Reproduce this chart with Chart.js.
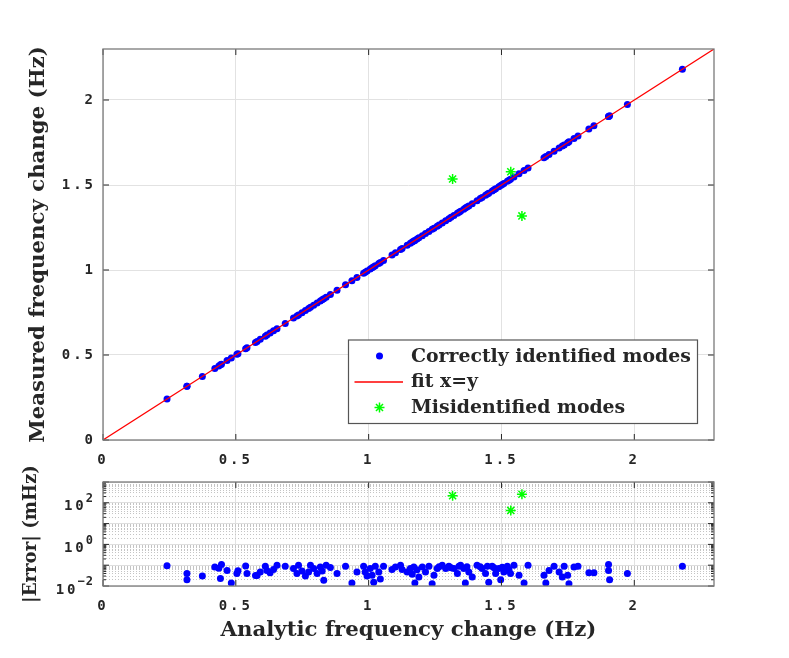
<!DOCTYPE html>
<html>
<head>
<meta charset="utf-8">
<script src="https://cdn.jsdelivr.net/npm/chart.js"></script>
<style>
  html, body { margin: 0; padding: 0; background: #fff; }
  #wrap { position: relative; width: 789px; height: 658px; }
  #top { position: absolute; left: 0; top: 0; }
  #bot { position: absolute; left: 0; top: 455px; }
</style>
</head>
<body>
<div id="wrap">
  <canvas id="top" width="789" height="470"></canvas>
  <canvas id="bot" width="789" height="203"></canvas>
</div>
<script>

// correctly identified modes: analytic frequency change (Hz) and |error| (mHz)
// (measured values sit on x=y at this scale, so the top plot uses the analytic value)
const analyticHz = [
  0.241, 0.316, 0.316, 0.374, 0.421, 0.436, 0.446, 0.442, 0.467, 0.483,
  0.504, 0.508, 0.537, 0.542, 0.574,
  0.580, 0.592, 0.611, 0.617, 0.629, 0.642, 0.655, 0.686, 0.717, 0.736,
  0.730, 0.749, 0.762, 0.774, 0.781, 0.793, 0.806, 0.818, 0.825, 0.831,
  0.840, 0.856, 0.881, 0.913, 0.937, 0.956, 0.981, 0.987, 0.994, 1.006,
  1.013, 1.019, 1.025, 1.038, 1.044, 1.056, 1.088, 1.101, 1.120, 1.126,
  1.145, 1.157, 1.164, 1.174,
  1.170, 1.189, 1.202, 1.214, 1.227, 1.239, 1.246, 1.258, 1.277, 1.290,
  1.302, 1.321, 1.334, 1.346, 1.358, 1.364, 1.377, 1.390, 1.408, 1.427,
  1.440, 1.452, 1.465, 1.478, 1.490, 1.497, 1.509, 1.522, 1.534, 1.547,
  1.566, 1.585, 1.600, 1.660, 1.667, 1.679, 1.698, 1.717, 1.736, 1.749,
  1.182, 1.265, 1.310, 1.340, 1.370, 1.420, 1.447, 1.472, 1.503, 1.528,
  1.729, 1.754, 1.773, 1.788, 1.829, 1.848, 1.903, 1.903, 1.907, 1.974,
  2.181
];
const errorMHz = [
  0.095, 0.040, 0.020, 0.030, 0.081, 0.071, 0.107, 0.023, 0.056, 0.014,
  0.040, 0.054, 0.091, 0.040, 0.032,
  0.032, 0.047, 0.089, 0.056, 0.043, 0.062, 0.100, 0.089, 0.069, 0.100,
  0.040, 0.052, 0.030, 0.047, 0.100, 0.069, 0.040, 0.083, 0.052, 0.019,
  0.100, 0.078, 0.040, 0.089, 0.014, 0.047, 0.089, 0.047, 0.030, 0.069,
  0.033, 0.015, 0.089, 0.047, 0.022, 0.089, 0.062, 0.083, 0.100, 0.062,
  0.047, 0.069, 0.037, 0.014,
  0.083, 0.027, 0.083, 0.047, 0.089, 0.013, 0.033, 0.069, 0.100, 0.069,
  0.089, 0.069, 0.040, 0.100, 0.069, 0.014, 0.047, 0.027, 0.100, 0.069,
  0.040, 0.015, 0.089, 0.040, 0.069, 0.020, 0.047, 0.089, 0.040, 0.100,
  0.033, 0.014, 0.100, 0.033, 0.014, 0.056, 0.089, 0.047, 0.089, 0.033,
  0.060, 0.085, 0.075, 0.090, 0.085, 0.085, 0.090, 0.075, 0.080, 0.060,
  0.027, 0.013, 0.083, 0.089, 0.043, 0.043, 0.107, 0.056, 0.020, 0.040,
  0.089
];

// misidentified modes
const misAnalyticHz = [1.316, 1.535, 1.577];
const misMeasuredHz = [1.535, 1.578, 1.318];
const misErrorMHz = [219, 43, 259];

// reference line x = y
const fitHz = [0, 2.3];

const xTicks = [0, 0.5, 1, 1.5, 2];
const yTicks = [0, 0.5, 1, 1.5, 2];
const errTicks = [0.01, 1, 100];
const errTickExponents = ['\u22122', '0', '2'];

const TEXT = '#262626';
const BLUE = '#0000ff';
const GREEN = '#00ff00';
const RED = '#ff0000';

function fitSize(text, target) {
  var c = document.createElement('canvas').getContext('2d');
  c.font = 'bold 100px "DejaVu Serif"';
  return 100 * target / c.measureText(text).width;
}
var titleSize = fitSize('Analytic frequency change (Hz)', 376);
var errTitleSize = fitSize('|Error| (mHz)', 138);
var legendSize = fitSize('Correctly identified modes', 280);

const TICK_FONT = { family: 'DejaVu Sans Mono', weight: 'bold', size: 14 };
const TITLE_FONT = { family: 'DejaVu Serif', weight: 'bold', size: titleSize };

function isDecade(v) {
  var l = Math.log10(v);
  return Math.abs(l - Math.round(l)) < 1e-6;
}

// tick labels are drawn after the datasets (ticks.z = 1) with wide spacing
const spacing = {
  id: 'spacing',
  afterDatasetsDraw(chart) { chart.ctx.letterSpacing = '3px'; },
  afterDraw(chart) { chart.ctx.letterSpacing = '0px'; }
};

// axes box with inward tick marks
const frame = {
  id: 'frame',
  afterDraw(chart, args, opts) {
    var ctx = chart.ctx, a = chart.chartArea;
    var xs = chart.scales.x, ys = chart.scales.y;
    ctx.save();
    ctx.strokeStyle = TEXT;
    ctx.lineWidth = 1;
    function seg(x1, y1, x2, y2) { ctx.beginPath(); ctx.moveTo(x1, y1); ctx.lineTo(x2, y2); ctx.stroke(); }
    xTicks.forEach(function (v) {
      var p = xs.getPixelForValue(v);
      seg(p, a.bottom, p, a.bottom - 6);
      seg(p, a.top, p, a.top + 6);
    });
    opts.yMarks.forEach(function (v) {
      var p = ys.getPixelForValue(v);
      var len = (opts.log && !isDecade(v)) ? 3 : 6;
      seg(a.left, p, a.left + len, p);
      seg(a.right, p, a.right - len, p);
    });
    ctx.strokeStyle = '#7a7a7a';
    ctx.lineWidth = 1.3;
    ctx.strokeRect(a.left, a.top, a.right - a.left, a.bottom - a.top);
    ctx.restore();
  }
};

// 10^k labels of the log axis, exponent raised
const expLabels = {
  id: 'expLabels',
  afterDraw(chart) {
    var ctx = chart.ctx, a = chart.chartArea, ys = chart.scales.y;
    ctx.save();
    ctx.fillStyle = TEXT;
    ctx.textBaseline = 'middle';
    ctx.textAlign = 'left';
    errTicks.forEach(function (v, i) {
      var p = ys.getPixelForValue(v);
      ctx.font = 'bold 12px "DejaVu Sans Mono"';
      ctx.letterSpacing = '1px';
      var ew = ctx.measureText(errTickExponents[i]).width;
      ctx.font = 'bold 14px "DejaVu Sans Mono"';
      ctx.letterSpacing = '3px';
      var bw = ctx.measureText('10').width;
      var bx = a.left - 10 - ew - bw + 2;
      ctx.fillText('10', bx, p + 4);
      ctx.font = 'bold 12px "DejaVu Sans Mono"';
      ctx.letterSpacing = '1px';
      ctx.fillText(errTickExponents[i], bx + bw - 1, p - 4);
    });
    ctx.restore();
  }
};

function star(ctx, x, y, r) {
  ctx.beginPath();
  for (var k = 0; k < 4; k++) {
    var t = k * Math.PI / 4;
    ctx.moveTo(x - r * Math.cos(t), y - r * Math.sin(t));
    ctx.lineTo(x + r * Math.cos(t), y + r * Math.sin(t));
  }
  ctx.stroke();
}

// legend box in the lower right of the top axes
const legendBox = {
  id: 'legendBox',
  afterDraw(chart) {
    var ctx = chart.ctx, a = chart.chartArea;
    var w = 349, h = 83.5;
    var x0 = a.right - 16.5 - w, y0 = a.bottom - 16.5 - h;
    ctx.save();
    ctx.letterSpacing = '0px';
    ctx.fillStyle = '#fff';
    ctx.fillRect(x0, y0, w, h);
    ctx.strokeStyle = '#555';
    ctx.lineWidth = 1.2;
    ctx.strokeRect(x0, y0, w, h);
    var mx = x0 + 31, tx = x0 + 62.5;
    var rows = [y0 + 16, y0 + 41.5, y0 + 67.5];
    ctx.fillStyle = BLUE;
    ctx.beginPath(); ctx.arc(mx, rows[0], 3.5, 0, Math.PI * 2); ctx.fill();
    ctx.strokeStyle = RED;
    ctx.lineWidth = 1.5;
    ctx.beginPath(); ctx.moveTo(x0 + 6, rows[1] + 0.5); ctx.lineTo(x0 + 54.5, rows[1] + 0.5); ctx.stroke();
    ctx.strokeStyle = GREEN; ctx.lineWidth = 1.5;
    star(ctx, mx, rows[2], 5);
    ctx.fillStyle = TEXT;
    ctx.font = 'bold ' + legendSize + 'px "DejaVu Serif"';
    ctx.textBaseline = 'middle';
    var labels = ['Correctly identified modes', 'fit x=y', 'Misidentified modes'];
    labels.forEach(function (s, i) { ctx.fillText(s, tx, rows[i] + 1); });
    ctx.restore();
  }
};

function xScale(height, pad) {
  return {
    type: 'linear', min: 0, max: 2.3,
    afterBuildTicks: function (s) { s.ticks = xTicks.map(function (v) { return { value: v }; }); },
    afterFit: function (s) { s.height = height; },
    grid: { color: '#e2e2e2', lineWidth: 1, drawTicks: false },
    border: { display: false },
    ticks: { font: TICK_FONT, color: TEXT, padding: pad, autoSkip: false, maxRotation: 0, z: 1,
             callback: function (v) { return String(v); } }
  };
}

new Chart(document.getElementById('top'), {
  type: 'scatter',
  data: {
    datasets: [
      { label: 'Misidentified modes',
        data: misAnalyticHz.map(function (x, i) { return { x: x, y: misMeasuredHz[i] }; }),
        pointStyle: 'star', pointRadius: 5, borderColor: GREEN, backgroundColor: GREEN, borderWidth: 1.5, order: 0 },
      { label: 'fit x=y', type: 'line',
        data: fitHz.map(function (v) { return { x: v, y: v }; }),
        borderColor: RED, borderWidth: 1.2, pointRadius: 0, fill: false, order: 1 },
      { label: 'Correctly identified modes',
        data: analyticHz.map(function (x) { return { x: x, y: x }; }),
        pointRadius: 3.5, backgroundColor: BLUE, borderColor: BLUE, borderWidth: 0, order: 2 }
    ]
  },
  options: {
    responsive: false,
    animation: false,
    layout: { padding: { left: 0, top: 49, right: 75, bottom: 0 } },
    plugins: {
      legend: { display: false }, tooltip: { enabled: false },
      frame: { yMarks: yTicks, log: false }
    },
    scales: {
      x: xScale(30, 12),
      y: {
        type: 'linear', min: 0, max: 2.3,
        afterBuildTicks: function (s) { s.ticks = yTicks.map(function (v) { return { value: v }; }); },
        afterFit: function (s) { s.width = 103; },
        grid: { color: '#e2e2e2', lineWidth: 1, drawTicks: false },
        border: { display: false },
        ticks: { font: TICK_FONT, color: TEXT, padding: 7, autoSkip: false, z: 1,
                 callback: function (v) { return String(v); } },
        title: { display: true, text: 'Measured frequency change (Hz)', font: TITLE_FONT, color: TEXT,
                 padding: { top: 26, bottom: 0 } }
      }
    }
  },
  plugins: [spacing, frame, legendBox]
});

// minor grid positions of the log axis: 1..9 x 10^k
var errGrid = [];
for (var k = -2; k <= 2; k++) {
  for (var m = 1; m <= 9; m++) errGrid.push(Number((m * Math.pow(10, k)).toPrecision(3)));
}
errGrid.push(1000);

var botX = xScale(72, 12);
botX.title = { display: true, text: 'Analytic frequency change (Hz)', font: TITLE_FONT, color: TEXT,
               padding: { top: 0, bottom: 15 } };

new Chart(document.getElementById('bot'), {
  type: 'scatter',
  data: {
    datasets: [
      { label: 'Misidentified modes',
        data: misAnalyticHz.map(function (x, i) { return { x: x, y: misErrorMHz[i] }; }),
        pointStyle: 'star', pointRadius: 5, borderColor: GREEN, backgroundColor: GREEN, borderWidth: 1.5, order: 0 },
      { label: 'Correctly identified modes',
        data: analyticHz.map(function (x, i) { return { x: x, y: errorMHz[i] }; }),
        pointRadius: 3.5, backgroundColor: BLUE, borderColor: BLUE, borderWidth: 0, order: 1 }
    ]
  },
  options: {
    responsive: false,
    animation: false,
    layout: { padding: { left: 0, top: 27, right: 75, bottom: 0 } },
    plugins: {
      legend: { display: false }, tooltip: { enabled: false },
      frame: { yMarks: errGrid, log: true }
    },
    scales: {
      x: botX,
      y: {
        type: 'logarithmic', min: 0.01, max: 1000,
        afterBuildTicks: function (s) { s.ticks = errGrid.map(function (v) { return { value: v }; }); },
        afterFit: function (s) { s.width = 103; },
        grid: {
          color: function (c) { return (c.tick && isDecade(c.tick.value)) ? '#dedede' : '#c4c4c4'; },
          lineWidth: 1, drawTicks: false
        },
        border: {
          display: false,
          dash: function (c) { return (c.tick && !isDecade(c.tick.value)) ? [1, 2] : []; }
        },
        ticks: { display: true, autoSkip: false, callback: function () { return ''; } },
        title: { display: true, text: '|Error| (mHz)', color: TEXT,
                 font: { family: 'DejaVu Serif', weight: 'bold', size: errTitleSize },
                 padding: { top: 20, bottom: 0 } }
      }
    }
  },
  plugins: [spacing, frame, expLabels]
});
</script>
</body>
</html>
